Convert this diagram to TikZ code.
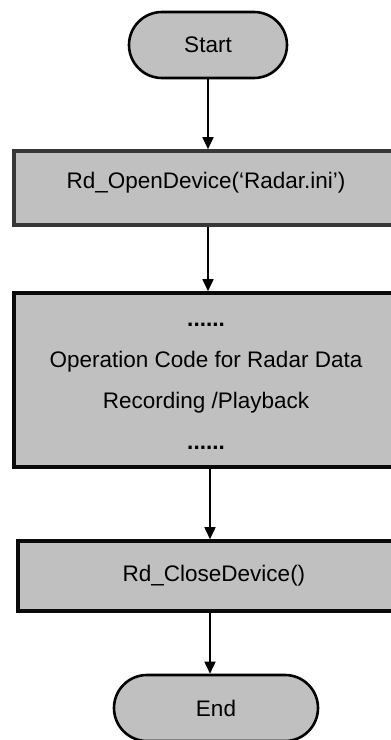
\documentclass[tikz,border=0pt]{standalone}
\usepackage{fontspec}
\setmainfont{Liberation Sans}
\usetikzlibrary{shapes.misc,arrows.meta}
\definecolor{boxfill}{RGB}{192,192,192}
\definecolor{boxedge}{RGB}{10,10,10}
\definecolor{greyedge}{RGB}{55,55,55}
\tikzset{
  terminal/.style={rounded rectangle, draw=black, line width=2.6pt, fill=boxfill,
    minimum height=66, inner sep=0pt},
  procbox/.style={rectangle, draw=boxedge, line width=3.6pt, fill=boxfill, inner sep=0pt},
  flow/.style={-{Triangle[length=12pt,width=11pt]}, line width=1.6pt, black},
  label/.style={font=\fontsize{22.5}{27}\selectfont}
}
\begin{document}
\begin{tikzpicture}[x=1pt,y=-1pt]
\useasboundingbox (0,0) rectangle (391,740);
% start terminal
\node[terminal, minimum width=158, label] (start) at (208,45) {Start};
% process boxes (right side runs past the page edge)
\node[procbox, draw=greyedge, minimum width=396, minimum height=74] (open) at (212,188) {};
\node[label] (opentxt) at (206,183) {Rd\_OpenDevice(‘Radar.ini’)};
\node[procbox, minimum width=396, minimum height=174] (ops) at (212,380) {};
\node[label, align=center] (opstxt) at (206,386)
  {\textbf{......}\\[14pt]Operation Code for Radar Data\\[14pt]Recording /Playback\\[14pt]\textbf{......}};
\node[procbox, minimum width=396, minimum height=70] (close) at (216,576) {};
\node[label] (closetxt) at (214,576) {Rd\_CloseDevice()};
% end terminal
\node[terminal, minimum width=204, label] (end) at (216,708) {End};
% connectors
\draw[flow] (start.south -| 208,0) -- (open.north -| 208,0);
\draw[flow] (open.south -| 208,0) -- (ops.north -| 208,0);
\draw[flow] (ops.south -| 210,0) -- (close.north -| 210,0);
\draw[flow] (close.south -| 210,0) -- (end.north -| 210,0);
\end{tikzpicture}
\end{document}
